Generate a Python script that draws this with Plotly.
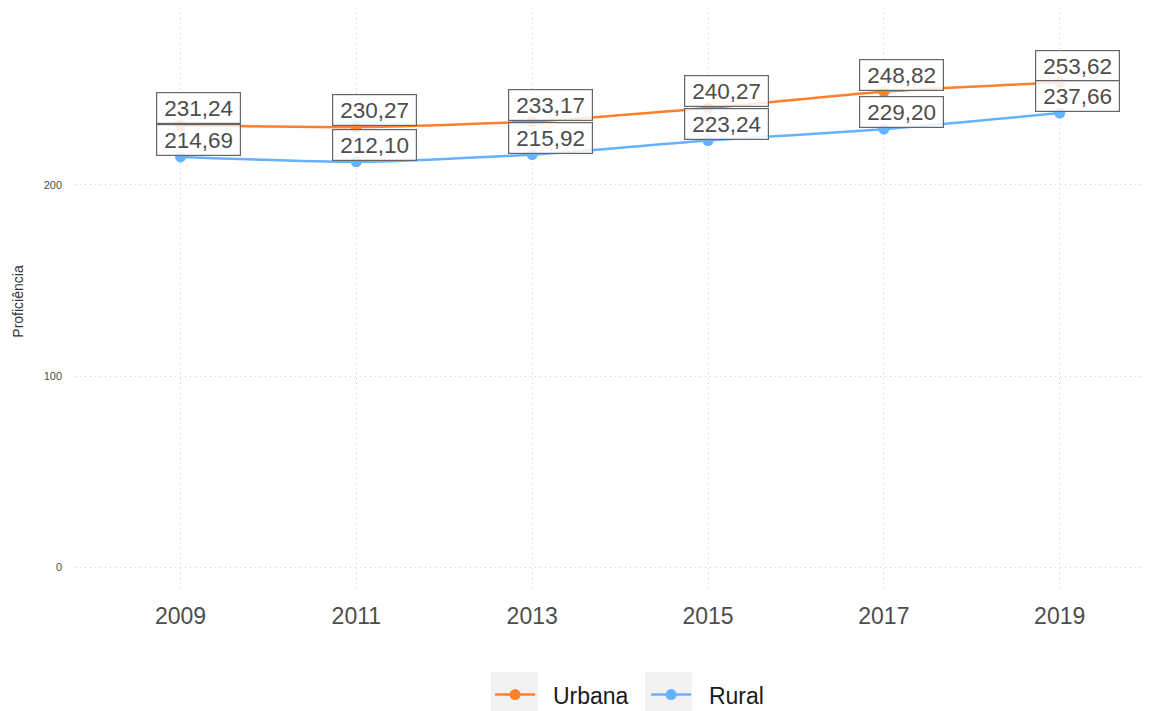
import plotly.graph_objects as go

anos = [2009, 2011, 2013, 2015, 2017, 2019]
urbana = [231.24, 230.27, 233.17, 240.27, 248.82, 253.62]
rural = [214.69, 212.10, 215.92, 223.24, 229.20, 237.66]
series = [("Urbana", urbana, "#FF7F2A"), ("Rural", rural, "#66B2FF")]

TS = "\u2009"
def fmt(v):
    return TS + f"{v:.2f}".replace(".", ",") + TS

NB = "\u00a0"
FONT = "Liberation Sans, Arial, sans-serif"
fig = go.Figure()
for name, vals, color in series:
    fig.add_trace(go.Scatter(
        x=anos, y=vals, name=NB * 2 + name + NB * 2, mode="lines+markers",
        line=dict(color=color, width=2.5, shape="spline", smoothing=0.6),
        marker=dict(color=color, size=11),
    ))

annotations = []
for name, vals, color in series:
    for x, v in zip(anos, vals):
        annotations.append(dict(
            x=x, y=v, text=fmt(v), showarrow=False, yshift=17, xshift=18,
            font=dict(size=22.5, color="#4d4d4d", family=FONT),
            bgcolor="rgba(255,255,255,0.85)", bordercolor="#666666", borderwidth=1.2, borderpad=2.5,
        ))

OFF = 8  # page body margin
L, R, T, B = 67, 8, 5, 129
W, H = 1152, 711
pw = W - L - R
ph = H - T - B

def px2paper_x(p):
    return (p - OFF - L) / pw

def px2paper_y(p):
    return (H - B - (p - OFF)) / ph

shapes = []
for x0, x1 in [(491, 538), (645, 692)]:
    shapes.append(dict(type="rect", xref="paper", yref="paper",
                       x0=px2paper_x(x0), x1=px2paper_x(x1),
                       y0=px2paper_y(711), y1=px2paper_y(672),
                       fillcolor="#f2f2f2", line=dict(width=0), layer="below"))

GRID = dict(showgrid=True, gridcolor="#cccccc", griddash="1px,4px", gridwidth=1,
            zeroline=False, showline=False, ticks="", automargin=False)

fig.update_layout(
    width=W, height=H,
    paper_bgcolor="white", plot_bgcolor="white",
    margin=dict(l=L, r=R, t=T, b=B, autoexpand=False),
    font=dict(family=FONT, color="#4d4d4d"),
    annotations=annotations,
    shapes=shapes,
    showlegend=True,
    legend=dict(orientation="h", x=0.521, xanchor="center", y=-0.144, yanchor="top",
                font=dict(size=23, color="#1a1a1a"), itemwidth=40, bgcolor="rgba(0,0,0,0)"),
    xaxis=dict(range=[2007.8, 2020.05], tickvals=anos, ticktext=[str(a) for a in anos],
               ticklabelstandoff=10,
               tickfont=dict(size=23, color="#4d4d4d"), **GRID),
    yaxis=dict(range=[-12, 290], tickvals=[0, 100, 200],
               ticklabelstandoff=12,
               tickfont=dict(size=11, color="#4d4d4d"),
               title=dict(text="Proficiência", font=dict(size=14, color="#333333"), standoff=16),
               **GRID),
)

fig.write_html("out.html")
